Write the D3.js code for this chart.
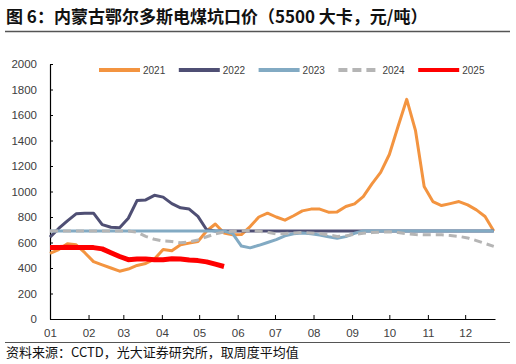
<!DOCTYPE html>
<html>
<head>
<meta charset="utf-8">
<script src="https://cdn.jsdelivr.net/npm/d3@7"></script>
<style>
  body { margin: 0; background: #fff; }
  svg { display: block; font-family: "Liberation Sans", Arial, sans-serif; }
</style>
</head>
<body>
<div id="chart"></div>
<script>
// weekly sample dates (month-day), same calendar for each year
const weeks = ["01-01","01-08","01-15","01-22","01-29","02-05","02-12","02-19","02-26",
  "03-05","03-12","03-19","03-26","04-02","04-09","04-16","04-23","04-30",
  "05-07","05-14","05-21","05-28","06-04","06-11","06-18","06-25",
  "07-02","07-09","07-16","07-23","07-30","08-06","08-13","08-20","08-27",
  "09-03","09-10","09-17","09-24","10-01","10-08","10-15","10-22","10-29",
  "11-05","11-12","11-19","11-26","12-03","12-10","12-17","12-24"];

const monthLabels = ["01","02","03","04","05","06","07","08","09","10","11","12"];
const yTicks = [0,200,400,600,800,1000,1200,1400,1600,1800,2000];

const y2021 = [515,545,590,582,520,450,425,400,375,392,420,435,470,545,535,582,595,608,
  690,745,675,660,662,725,800,830,800,775,810,848,862,862,838,840,882,903,960,1060,
  1150,1290,1510,1723,1480,1040,921,890,905,921,895,856,804,690];
const y2022 = [642,710,770,825,830,830,740,720,715,790,929,934,970,956,905,872,862,805,
  700,690,690,690,690,690,690,690,690,690,690,690,690,690,690,690,690,690,690,690,
  690,690,690,690,690,690,690,690,690,690,690,690,690,690];
const y2023 = [690,690,690,690,690,690,690,690,690,690,690,690,690,690,690,690,690,690,
  690,690,690,670,572,558,578,600,622,652,668,674,668,658,645,634,646,672,690,690,
  690,690,690,690,690,690,690,690,690,690,690,690,690,690];
const y2024 = [690,690,690,690,690,690,690,690,690,690,680,648,625,612,608,598,605,620,
  645,668,682,688,692,695,688,680,668,670,675,678,675,670,660,648,652,664,672,678,
  682,684,678,668,662,660,660,660,655,648,636,615,592,570];
const y2025 = [560,560,562,560,560,560,550,520,490,465,470,470,465,465,472,470,462,458,
  448,430,412];

const seriesNames = ["2021","2022","2023","2024","2025"];
const seriesValues = [y2021, y2022, y2023, y2024, y2025];
const colors = ["#F39440","#4F4F74","#82AAC3","#B5B5B5","#FF0000"];
const widths = [3, 3, 3, 3, 5];
const dashes = [null, null, null, "8,5", null];

const W = 516, H = 364;
const svg = d3.select("#chart").append("svg").attr("width", W).attr("height", H);

// title
svg.append("text")
  .attr("x", 6).attr("y", 23)
  .style("font-family", "'Noto Sans CJK SC', sans-serif")
  .style("font-size", "17px").style("font-weight", "bold").attr("fill", "#111")
  .text("图 6：内蒙古鄂尔多斯电煤坑口价（5500 大卡，元/吨）");
svg.append("line").attr("x1", 5).attr("x2", 510).attr("y1", 31.5).attr("y2", 31.5)
  .attr("stroke", "#555").attr("stroke-width", 1.5);

const parse = d3.timeParse("%Y-%m-%d");
const x = d3.scaleTime()
  .domain([parse("2021-01-01"), parse("2021-12-25")])
  .range([50, 495]);
const y = d3.scaleLinear().domain([0, 2000]).range([319, 64]);

const dates = weeks.map(w => parse("2021-" + w));

// axes
const xAxis = d3.axisBottom(x)
  .tickValues(monthLabels.map(m => parse("2021-" + m + "-01")))
  .tickFormat((d, i) => monthLabels[i])
  .tickSizeInner(-4).tickSizeOuter(0).tickPadding(10);
const gx = svg.append("g").attr("transform", "translate(0,319)").call(xAxis);
gx.select(".domain").attr("stroke", "#000").attr("stroke-width", 1.2);
gx.selectAll(".tick line").attr("stroke", "#000");
gx.selectAll("text").style("font-size", "11.5px").attr("fill", "#404040");

const yAxis = d3.axisLeft(y).tickValues(yTicks).tickFormat(d3.format("d"))
  .tickSizeInner(-3).tickSizeOuter(0).tickPadding(13);
const gy = svg.append("g").attr("transform", "translate(50,0)").call(yAxis);
gy.select(".domain").attr("stroke", "#000").attr("stroke-width", 1.2);
gy.selectAll(".tick line").attr("stroke", "#000");
gy.selectAll("text").style("font-size", "11.5px").attr("fill", "#404040");

// series
const line = d3.line()
  .defined(d => d[1] != null)
  .x(d => x(d[0])).y(d => y(d[1]));

seriesValues.forEach((vals, k) => {
  const pts = vals.map((v, i) => [dates[i], v]);
  svg.append("path")
    .datum(pts)
    .attr("d", line)
    .attr("fill", "none")
    .attr("stroke", colors[k])
    .attr("stroke-width", widths[k])
    .attr("stroke-dasharray", dashes[k])
    .attr("stroke-linejoin", "round");
});

// legend
const legend = svg.append("g").attr("transform", "translate(99,70)");
seriesNames.forEach((name, k) => {
  const g = legend.append("g").attr("transform", "translate(" + (k * 79.8) + ",0)");
  g.append("line").attr("x1", 0).attr("x2", 41).attr("y1", 0).attr("y2", 0)
    .attr("stroke", colors[k]).attr("stroke-width", 4)
    .attr("stroke-dasharray", dashes[k] ? "9,5" : null);
  g.append("text").attr("x", 44).attr("y", 3.6)
    .style("font-size", "10px").attr("fill", "#404040").text(name);
});

// source
svg.append("line").attr("x1", 5).attr("x2", 510).attr("y1", 342.5).attr("y2", 342.5)
  .attr("stroke", "#555").attr("stroke-width", 1.2);
svg.append("text")
  .attr("x", 6).attr("y", 357)
  .style("font-family", "'Noto Sans CJK SC', sans-serif")
  .style("font-size", "13px").attr("fill", "#111")
  .text("资料来源：CCTD，光大证券研究所，取周度平均值");
</script>
</body>
</html>
